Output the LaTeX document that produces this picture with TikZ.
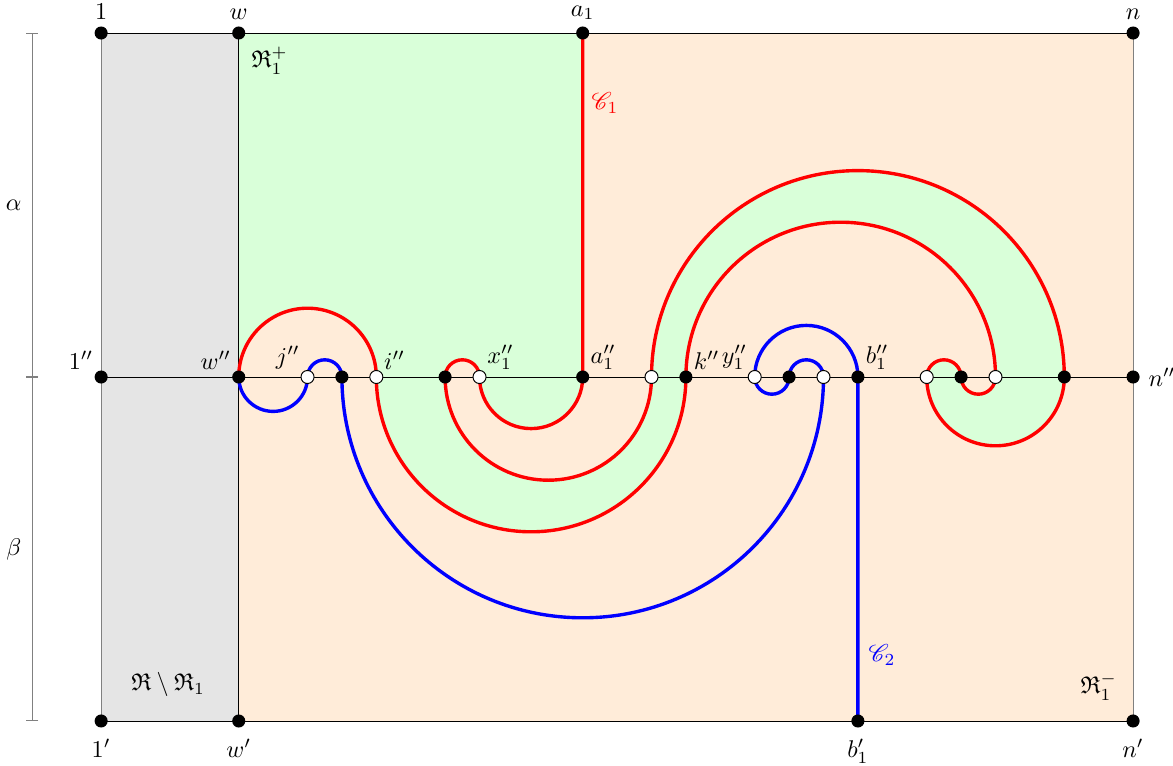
\documentclass[tikz,border=0pt]{standalone}
\usepackage{amsmath,amssymb,mathrsfs}
\usepackage{tikz}
\usetikzlibrary{arrows.meta}

\pgfdeclarelayer{bg}
\pgfdeclarelayer{curves}
\pgfsetlayers{bg,curves,main}

\tikzset{
  bdot/.style={circle,fill=black,inner sep=0pt,minimum size=5.4pt},
  wdot/.style={circle,draw=black,fill=white,inner sep=0pt,minimum size=5.4pt},
  cone/.style={red,line width=1.4pt},
  ctwo/.style={blue,line width=1.4pt},
  spanbar/.style={gray,{Bar[width=5pt]}-{Bar[width=5pt]}},
  tlabel/.style={label distance=-1pt},
  mlabel/.style={inner sep=1pt},
  blabel/.style={label distance=1pt}
}

% the meander of C_1, from a_1'' round to w''
\newcommand{\meanderone}{arc[start angle=0,end angle=-180,radius=1.5]
  arc[start angle=0,end angle=180,radius=0.5]
  arc[start angle=180,end angle=360,radius=3]
  arc[start angle=180,end angle=0,radius=6]
  arc[start angle=0,end angle=-180,radius=2]
  arc[start angle=180,end angle=0,radius=0.5]
  arc[start angle=180,end angle=360,radius=0.5]
  arc[start angle=0,end angle=180,radius=4.5]
  arc[start angle=0,end angle=-180,radius=4.5]
  arc[start angle=0,end angle=180,radius=2]}

\begin{document}
\begin{tikzpicture}[scale=0.5,label distance=0pt]
\useasboundingbox (-2.94,-11.28) rectangle (31.16,10.96);
% top row
\node[bdot,label={[tlabel]above:$1$}] (t1) at (0,10) {};
\node[bdot,label={[tlabel]above:$w$}] (tw) at (4,10) {};
\node[bdot,label={[tlabel]above:$a_1$}] (ta) at (14,10) {};
\node[bdot,label={[tlabel]above:$n$}] (tn) at (30,10) {};
% middle row
\node[bdot,label={[mlabel]above left:$1''$}] (m1) at (0,0) {};
\node[bdot,label={[mlabel]above left:$w''$}] (mw) at (4,0) {};
\node[wdot,label={[mlabel]above left:$j''$}] (mj) at (6,0) {};
\node[bdot] (m7) at (7,0) {};
\node[wdot,label={[mlabel]above right:$i''$}] (mi) at (8,0) {};
\node[bdot] (m10) at (10,0) {};
\node[wdot,label={[mlabel]above right:$x_1''$}] (mx) at (11,0) {};
\node[bdot,label={[mlabel]above right:$a_1''$}] (ma) at (14,0) {};
\node[wdot] (m16) at (16,0) {};
\node[bdot,label={[mlabel]above right:$k''$}] (mk) at (17,0) {};
\node[wdot,label={[mlabel]above left:$y_1''$}] (my) at (19,0) {};
\node[bdot] (m20) at (20,0) {};
\node[wdot] (m21) at (21,0) {};
\node[bdot,label={[mlabel]above right:$b_1''$}] (mb) at (22,0) {};
\node[wdot] (m24) at (24,0) {};
\node[bdot] (m25) at (25,0) {};
\node[wdot] (m26) at (26,0) {};
\node[bdot] (m28) at (28,0) {};
\node[bdot,label={right:$n''$}] (mn) at (30,0) {};
% bottom row
\node[bdot,label={[blabel]below:$1'$}] (b1) at (0,-10) {};
\node[bdot,label={[blabel]below:$w'$}] (bw) at (4,-10) {};
\node[bdot,label={[blabel]below:$b_1'$}] (bb) at (22,-10) {};
\node[bdot,label={[blabel]below:$n'$}] (bn) at (30,-10) {};

\begin{pgfonlayer}{bg}
\filldraw[fill=gray!20,draw=gray] (b1.center) rectangle (tw.center);
\filldraw[fill=orange!15,draw=gray] (bw.center) rectangle (tn.center);
\fill[green!15] (tw.center) -- (ta.center) -- (ma.center) \meanderone -- cycle;
\draw (t1.center) -- (tn.center);
\draw (m1.center) -- (mn.center);
\draw (b1.center) -- (bn.center);
\draw (tw.center) -- (bw.center);
\end{pgfonlayer}

\begin{pgfonlayer}{curves}
\draw[cone] (ta.center) -- (ma.center) \meanderone;
\draw[ctwo] (bb.center) -- (mb.center)
  arc[start angle=0,end angle=180,radius=1.5]
  arc[start angle=180,end angle=360,radius=0.5]
  arc[start angle=180,end angle=0,radius=0.5]
  arc[start angle=0,end angle=-180,radius=7]
  arc[start angle=0,end angle=180,radius=0.5]
  arc[start angle=0,end angle=-180,radius=1];
\end{pgfonlayer}

\draw[spanbar] (-2,10) -- (-2,0) node[midway,left=1pt,black] (alpha) {$\alpha$};
\draw[spanbar] (-2,0) -- (-2,-10) node[midway,left=1pt,black] (beta) {$\beta$};
\node[text=red] (c1) at (14.65,7.97) {$\mathscr{C}_1$};
\node[text=blue] (c2) at (22.7,-8.08) {$\mathscr{C}_2$};
\node (rplus) at (4.9,9.2) {$\mathfrak{R}_1^+$};
\node (rminus) at (29.0,-9.0) {$\mathfrak{R}_1^-$};
\node (rrest) at (1.95,-8.95) {$\mathfrak{R}\setminus\mathfrak{R}_1$};
\end{tikzpicture}
\end{document}
